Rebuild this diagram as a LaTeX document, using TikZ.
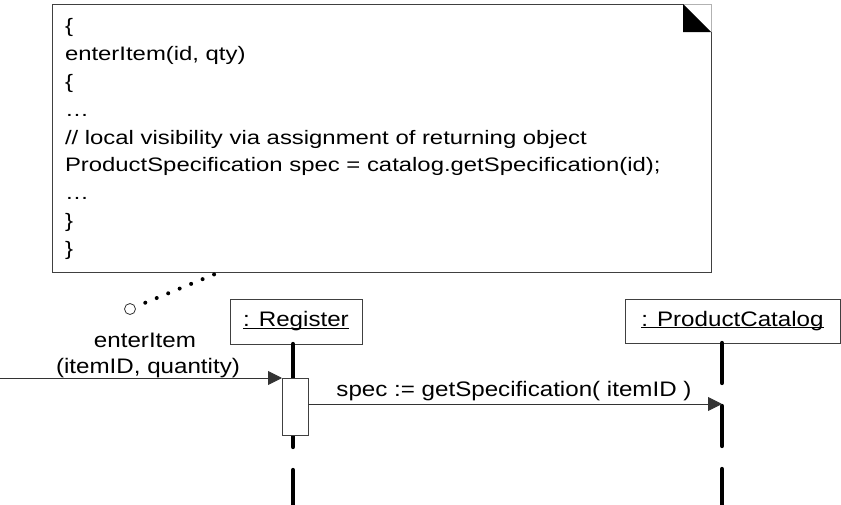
\documentclass[tikz,border=0pt]{standalone}
\usepackage{fontspec}
\setmainfont{Liberation Sans}
\usetikzlibrary{arrows.meta}
\newcommand\hsc[1]{\scalebox{1.15}[1]{#1}}
\newcommand\uln[1]{\setbox0\hbox{#1}\rlap{\rule[-1.8pt]{\wd0}{0.9pt}}\box0}
\begin{document}
\begin{tikzpicture}[x=1pt,y=-1pt,
  every node/.style={inner sep=0pt, outer sep=0pt},
  objbox/.style={draw=black!75, line width=0.9pt, fill=white, font=\fontsize{21}{26}\selectfont},
  lifeline/.style={line width=4.3pt, line cap=round, dash pattern=on 40pt off 23pt},
  actbox/.style={draw=black!75, line width=0.9pt, fill=white, minimum width=26pt, minimum height=57pt},
  msgline/.style={draw=black!80, line width=0.9pt, -{Triangle[length=14pt,width=14pt]}},
  lbl/.style={font=\fontsize{21}{26}\selectfont},
  noteline/.style={draw=black!75, line width=0.9pt},
  dotline/.style={line width=4pt, line cap=round, dash pattern=on 0pt off 12.4pt, shorten <=11pt},
]
\useasboundingbox (0,0) rectangle (841,504);

% note
\node[minimum width=659pt, minimum height=268pt, fill=white] (note) at (381.5,138) {};
\draw[noteline] ([xshift=-28pt]note.north east) -- (note.north west) -- (note.south west) -- (note.south east) -- ([yshift=-28pt]note.north east);
\draw[black!30, line width=0.8pt] ([xshift=-28pt]note.north east) -- (note.north east) -- ([yshift=-28pt]note.north east);
\fill ([xshift=-28pt]note.north east) -- ([xshift=-28pt,yshift=-28pt]note.north east) -- ([yshift=-28pt]note.north east) -- cycle;
\node[anchor=north west, font=\fontsize{19.5}{27.8}\selectfont] (notetext) at (65,13.5)
 {\scalebox{1.225}[1]{\begin{tabular}{@{}l@{}}\{\\enterItem(id, qty)\\\{\\…\\// local visibility via assignment of returning object\\ProductSpecification spec = catalog.getSpecification(id);\\…\\\}\\\}\end{tabular}}};

% anchor circle and dotted link
\node[circle, draw=black!80, line width=0.8pt, minimum size=11pt, fill=white] (ball) at (130,309) {};
\coordinate (notepin) at ([xshift=168pt]note.south west);
\draw[dotline] (ball) -- (notepin);

% objects
\node[objbox, minimum width=132pt, minimum height=45pt] (reg) at (296,321.5) {\hsc{\uln{: Register}}};
\node[objbox, minimum width=215pt, minimum height=44pt] (pc) at (732.5,321) {\hsc{\uln{: ProductCatalog}}};

% lifelines
\coordinate (regtop) at ([xshift=-3pt]reg.south);
\coordinate (regbot) at (293,512);
\coordinate (pctop) at ([xshift=-10.5pt]pc.south);
\coordinate (pcbot) at (722,512);
\draw[lifeline] (regtop) -- (regbot);
\draw[lifeline] (pctop) -- (pcbot);

% activation
\node[actbox] (act) at (295,406.5) {};

% messages
\coordinate (start) at (0,378);
\draw[msgline] (start) -- (act.north west);
\coordinate (msgfrom) at ([yshift=2.5pt]act.east);
\coordinate (msgto) at (pctop |- msgfrom);
\draw[msgline] (msgfrom) -- (msgto);

% labels
\node[lbl, anchor=base] (inlbl1) at (145,347) {\hsc{enterItem}};
\node[lbl, anchor=base] (inlbl2) at (148,373) {\hsc{(itemID, quantity)}};
\node[lbl, anchor=base] (speclbl) at (514,396) {\hsc{spec := getSpecification( itemID )}};
\end{tikzpicture}
\end{document}
